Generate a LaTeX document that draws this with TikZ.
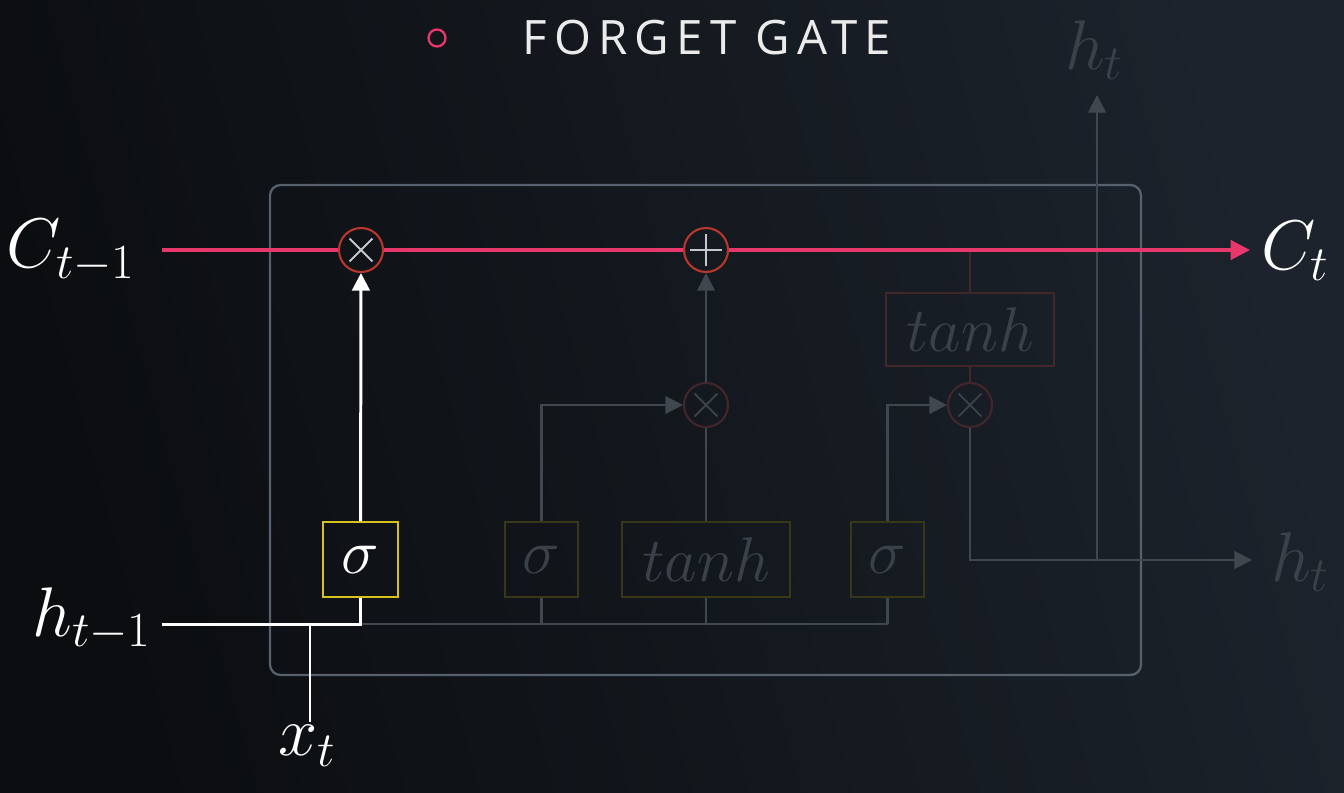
\documentclass[tikz,border=0pt]{standalone}
\usepackage{fix-cm}
\usepackage{fontspec}
\usetikzlibrary{arrows.meta, positioning, calc}
\newfontfamily\titlefont[LetterSpace=15]{Open Sans}
\definecolor{bgleft}{HTML}{0B0D10}
\definecolor{bgright}{HTML}{1C232C}
\definecolor{cellpink}{HTML}{E8376B}
\definecolor{opred}{HTML}{B8372C}
\definecolor{cellgrey}{HTML}{56616D}
\definecolor{sigyellow}{HTML}{D6C11E}
\definecolor{markgrey}{HTML}{C4C8CC}
\definecolor{dimline}{HTML}{40474F}
\definecolor{dimyellow}{HTML}{3A3719}
\definecolor{dimred}{HTML}{43262A}
\definecolor{dimtext}{HTML}{3B4149}

\begin{document}
\begin{tikzpicture}[x=0.02cm, y=-0.02cm,
    bigmath/.style={font=\fontsize{40}{44}\selectfont, inner sep=0pt},
    gatebox/.style={draw=#1, line width=1.3pt, minimum height=1.5cm, inner sep=0pt, font=\fontsize{36}{40}\selectfont},
    opnode/.style={circle, draw=#1, line width=1.2pt, minimum size=0.88cm, inner sep=0pt},
    timesmark/.style={path picture={\draw[#1, line width=1.1pt]
        ([shift={(-6.5pt,-6.5pt)}]path picture bounding box.center) -- ([shift={(6.5pt,6.5pt)}]path picture bounding box.center)
        ([shift={(-6.5pt,6.5pt)}]path picture bounding box.center) -- ([shift={(6.5pt,-6.5pt)}]path picture bounding box.center);}},
    plusmark/.style={path picture={\draw[#1, line width=1.1pt]
        ([shift={(-9pt,0pt)}]path picture bounding box.center) -- ([shift={(9pt,0pt)}]path picture bounding box.center)
        ([shift={(0pt,-9pt)}]path picture bounding box.center) -- ([shift={(0pt,9pt)}]path picture bounding box.center);}},
    activeline/.style={draw=white, line width=1.7pt},
    dimwire/.style={draw=dimline, line width=1.3pt},
    tip/.style={-{Triangle[length=10pt, width=10pt]}}]

  % background and cell
  \shade[left color=bgleft, right color=bgright, shading angle=105] (0,0) rectangle (1344,792);
  \useasboundingbox (0,0) rectangle (1344,792);
  \draw[cellgrey, line width=1.3pt, rounded corners=6pt] (270,185) rectangle (1141,675);

  % title
  \node[circle, draw=cellpink, line width=1.3pt, minimum size=0.34cm, inner sep=0pt] (bullet) at (437,38) {};
  \node[font=\titlefont\fontsize{27}{30}\selectfont, text=white!92!black] (title) at (707,38) {FORGET GATE};

  % gates and operations
  \node[gatebox=sigyellow, minimum width=1.5cm, text=white] (fsig) at (360.5,559.5) {$\sigma$};
  \node[gatebox=dimyellow, minimum width=1.46cm, text=dimtext] (isig) at (541.5,559.5) {$\sigma$};
  \node[gatebox=dimyellow, minimum width=3.36cm, text=dimtext] (ctanh) at (706,559.5) {$tanh$};
  \node[gatebox=dimyellow, minimum width=1.46cm, text=dimtext] (osig) at (887.5,559.5) {$\sigma$};
  \node[gatebox=dimred, minimum width=3.36cm, minimum height=1.46cm, text=dimtext] (otanh) at (970,329.5) {$tanh$};

  \node[opnode=opred, timesmark=markgrey] (mul1) at (361,250) {};
  \node[opnode=opred, plusmark=markgrey] (add1) at (706,250) {};
  \node[opnode=dimred, timesmark=dimtext] (mul2) at (706,405) {};
  \node[opnode=dimred, timesmark=dimtext] (mul3) at (970,405) {};

  % labels
  \node[bigmath, text=white] (cprev) at (71,251) {$C_{t-1}$};
  \node[bigmath, text=white] (cnext) at (1295,251) {$C_t$};
  \node[bigmath, text=white] (hprev) at (92,619) {$h_{t-1}$};
  \node[bigmath, text=white] (xcur) at (307,746) {$x_t$};
  \node[bigmath, text=dimtext] (htop) at (1094,50) {$h_t$};
  \node[bigmath, text=dimtext] (hside) at (1300,562) {$h_t$};

  \coordinate (cin) at (162,250);
  \coordinate (cout) at (1250,250);
  \coordinate (hin) at (162,624);
  \coordinate (xin) at (310,722);
  \coordinate (hout) at (1252,560);
  \coordinate (hup) at (1097,95);

  % faded paths
  \draw[dimwire] (fsig |- hin) -- (osig |- hin);
  \draw[dimwire] (isig.south) -- (isig |- hin);
  \draw[dimwire] (ctanh.south) -- (ctanh |- hin);
  \draw[dimwire] (osig.south) -- (osig |- hin);
  \draw[dimwire, tip] (isig) |- (mul2);
  \draw[dimwire] (ctanh) -- (mul2);
  \draw[dimwire, tip] (mul2) -- (add1);
  \draw[dimwire, tip] (osig) |- (mul3);
  \draw[draw=dimred, line width=1.3pt] (otanh.north) -- (otanh |- cin);
  \draw[draw=dimred, line width=1.3pt] (otanh) -- (mul3);
  \draw[dimwire, tip] (mul3) |- (hout);
  \draw[dimwire, tip] (hup |- hout) -- (hup);

  % forget gate path
  \draw[activeline] (hin) -| (fsig);
  \draw[activeline] (xin) -- (xin |- hin);
  \draw[activeline, tip] (fsig) -- (mul1);

  % cell state
  \draw[cellpink, line width=1.8pt] (cin) -- (mul1);
  \draw[cellpink, line width=1.8pt] (mul1) -- (add1);
  \draw[cellpink, line width=1.8pt, -{Triangle[length=11pt, width=11pt]}] (add1) -- (cout);
\end{tikzpicture}
\end{document}
